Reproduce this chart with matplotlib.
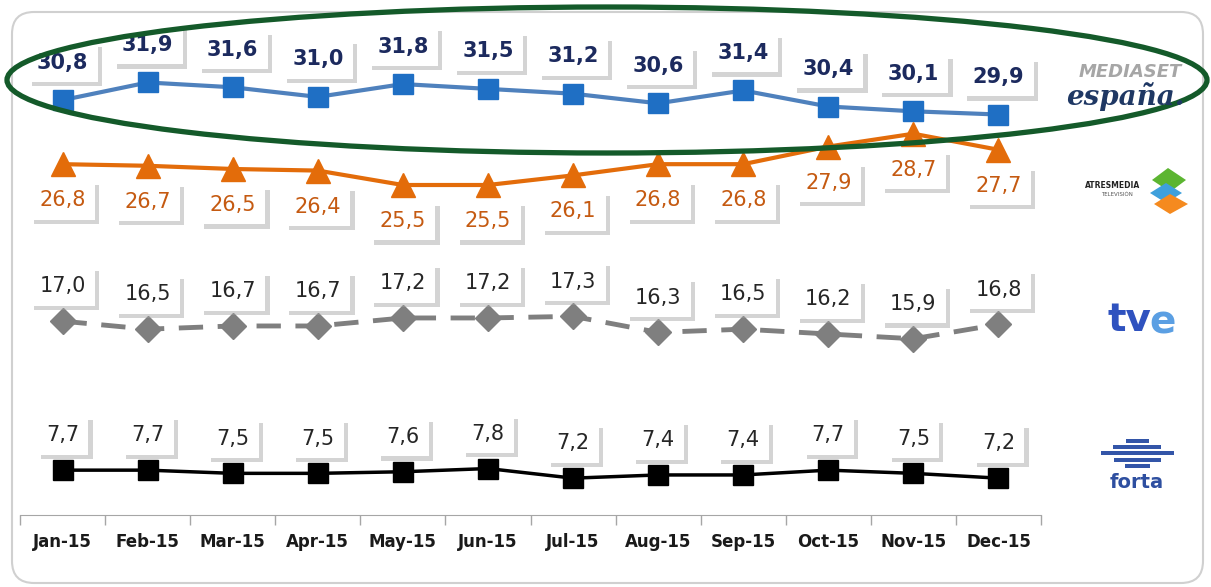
import matplotlib
matplotlib.use("Agg")
import matplotlib.pyplot as plt
import matplotlib.patheffects as pe
from matplotlib.patches import Ellipse, FancyBboxPatch, Polygon, Rectangle
import numpy as np

# audience share 2015, by group
months = ["Jan-15", "Feb-15", "Mar-15", "Apr-15", "May-15", "Jun-15",
          "Jul-15", "Aug-15", "Sep-15", "Oct-15", "Nov-15", "Dec-15"]
mediaset = [30.8, 31.9, 31.6, 31.0, 31.8, 31.5, 31.2, 30.6, 31.4, 30.4, 30.1, 29.9]
atresmedia = [26.8, 26.7, 26.5, 26.4, 25.5, 25.5, 26.1, 26.8, 26.8, 27.9, 28.7, 27.7]
tve = [17.0, 16.5, 16.7, 16.7, 17.2, 17.2, 17.3, 16.3, 16.5, 16.2, 15.9, 16.8]
forta = [7.7, 7.7, 7.5, 7.5, 7.6, 7.8, 7.2, 7.4, 7.4, 7.7, 7.5, 7.2]

W, H = 1211, 587
fig = plt.figure(figsize=(W / 100, H / 100), dpi=100)
fig.patch.set_facecolor("white")

ax = fig.add_axes([20 / W, 72 / H, 1021 / W, 495 / H])
x = np.arange(len(months))

shadow = [pe.SimplePatchShadow(offset=(3, -3), shadow_rgbFace="#a0a0a0", alpha=0.45),
          pe.Normal()]


def fmt(v):
    return f"{v:.1f}".replace(".", ",")


def label(v, xi, dy, color, weight="normal"):
    t = ax.annotate(fmt(v), (xi, v), xytext=(0, dy), textcoords="offset points",
                    ha="center", va="center", fontsize=15, color=color, weight=weight,
                    bbox=dict(boxstyle="square,pad=0.45", fc="white", ec="none"),
                    zorder=5)
    t.get_bbox_patch().set_path_effects(shadow)


ax.plot(x, mediaset, color="#4f81bd", lw=3, marker="s", ms=15,
        mfc="#1f6fc4", mec="#1f6fc4", zorder=3)
ax.plot(x, atresmedia, color="#e36c0a", lw=3, marker="^", ms=17,
        mfc="#e36c0a", mec="#e36c0a", zorder=3)
ax.plot(x, tve, color="#7f7f7f", lw=3.5, ls=(0, (5, 3)), marker="D", ms=13,
        mfc="#7f7f7f", mec="#7f7f7f", zorder=3)
ax.plot(x, forta, color="black", lw=2.5, marker="s", ms=15,
        mfc="black", mec="black", zorder=3)

for i in x:
    label(mediaset[i], i, 27, "#1c2a5e", "bold")
    label(atresmedia[i], i, -26, "#c55a11")
    label(tve[i], i, 25, "#262626")
    label(forta[i], i, 25, "#262626")

ax.set_xlim(-0.5, len(months) - 0.5)
ax.set_ylim(4.9, 35.8)
ax.set_xticks(np.arange(-0.5, len(months), 1.0), minor=False)
ax.set_xticklabels([])
ax.set_xticks(x, minor=True)
ax.set_xticklabels(months, minor=True, fontsize=12, weight="bold", color="#1a1a1a")
ax.tick_params(axis="x", which="major", length=7, color="#a6a6a6", width=1)
ax.tick_params(axis="x", which="minor", length=0, pad=13)
ax.set_yticks([])
for s in ["left", "right", "top"]:
    ax.spines[s].set_visible(False)
ax.spines["bottom"].set_color("#a6a6a6")
ax.patch.set_alpha(0)

# overlay in pixel coords: frame, ellipse, logos
ov = fig.add_axes([0, 0, 1, 1], zorder=10)
ov.set_xlim(0, W)
ov.set_ylim(H, 0)
ov.axis("off")
ov.patch.set_alpha(0)

ov.add_patch(FancyBboxPatch((12, 12), 1191, 571, boxstyle="round,pad=0,rounding_size=22",
                            fc="none", ec="#d0d0d0", lw=1.5))
ov.add_patch(Ellipse((607, 80), 1200, 146, fc="none", ec="#145a2a", lw=3.8))

ov.text(1130, 72, "MEDIASET", ha="center", va="center", fontsize=13,
        color="#a6a6a6", weight="bold", style="italic")
ov.text(1125, 97, "españa.", ha="center", va="center", fontsize=20,
        color="#1f3864", style="italic", weight="bold", family="DejaVu Serif")

ov.text(1113, 186, "ATRESMEDIA", ha="center", va="center", fontsize=5.5,
        color="#222222", weight="bold")
ov.text(1117, 195, "TELEVISIÓN", ha="center", va="center", fontsize=4,
        color="#555555")
cube = [((1152, 180), (1168, 168), (1186, 180), (1170, 192), "#5cb531"),
        ((1150, 193), (1166, 183), (1182, 193), (1166, 203), "#3ea0dc"),
        ((1154, 204), (1170, 194), (1188, 204), (1170, 214), "#f58a1f")]
for a, b, c, d, col in cube:
    ov.add_patch(Polygon([a, b, c, d], closed=True, fc=col, ec="none"))

ov.text(1151, 320, "tv", ha="right", va="center", fontsize=28,
        color="#2f52bf", weight="bold")
ov.text(1149, 322, "e", ha="left", va="center", fontsize=28,
        color="#5b9fe3", weight="bold")

for yy, ww in [(441, 23), (447, 48), (453, 73), (460, 47), (466, 25)]:
    ov.add_patch(Rectangle((1137 - ww / 2, yy - 2), ww, 4, fc="#3355a8", ec="none"))
ov.text(1137, 482, "forta", ha="center", va="center", fontsize=14,
        color="#2e4fa0", weight="bold")

fig.savefig("out.png", dpi=100)
